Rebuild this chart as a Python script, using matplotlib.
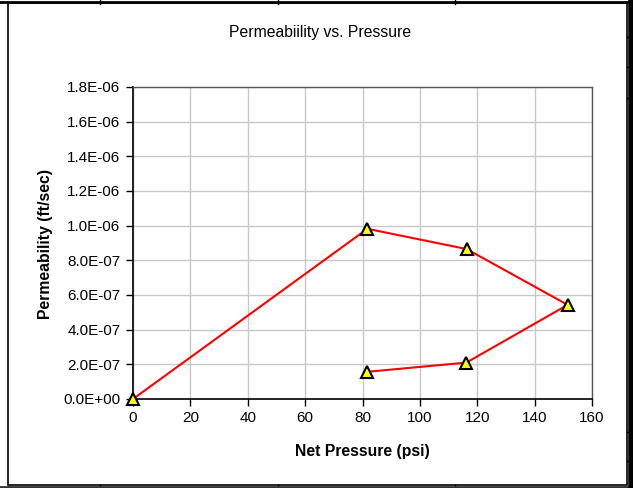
import matplotlib.pyplot as plt
from matplotlib.patches import Rectangle
from matplotlib.lines import Line2D

plt.rcParams['font.family'] = ['Liberation Sans', 'DejaVu Sans']

# data
pressure = [0, 81.7, 116.3, 151.5, 116.2, 81.7]
permeability = [0.0, 9.82e-07, 8.65e-07, 5.43e-07, 2.10e-07, 1.57e-07]

x_ticks = [0, 20, 40, 60, 80, 100, 120, 140, 160]
y_ticks = [0.0, 2e-07, 4e-07, 6e-07, 8e-07, 1e-06, 1.2e-06, 1.4e-06, 1.6e-06, 1.8e-06]
y_labels = ["0.0E+00", "2.0E-07", "4.0E-07", "6.0E-07", "8.0E-07",
            "1.0E-06", "1.2E-06", "1.4E-06", "1.6E-06", "1.8E-06"]

fig = plt.figure(figsize=(6.33, 4.88), dpi=100)
ax = fig.add_axes([133 / 633, 1 - 399 / 488, 459 / 633, 312 / 488])

# spreadsheet cell lines behind the chart
W, H = 633, 488
def px(x, y):
    return x / W, 1 - y / H

for xc in [100, 278, 455]:
    fig.add_artist(Line2D([xc / W, xc / W], [1, 1 - 4 / H], color='black', lw=1, transform=fig.transFigure))
    fig.add_artist(Line2D([xc / W, xc / W], [0, 3 / H], color='black', lw=1, transform=fig.transFigure))
for yr in [37, 67, 98, 432, 461]:
    fig.add_artist(Line2D([1 - 6 / W, 1], [1 - yr / H, 1 - yr / H], color='black', lw=1, transform=fig.transFigure))
fig.add_artist(Line2D([0, 1], [1 - 1.5 / H, 1 - 1.5 / H], color='black', lw=2, transform=fig.transFigure))
fig.add_artist(Line2D([0, 1], [1.5 / H, 1.5 / H], color='#333333', lw=2, transform=fig.transFigure))
fig.add_artist(Line2D([1 - 2 / W, 1 - 2 / W], [0, 1], color='black', lw=4, transform=fig.transFigure))

# chart frame
x0, y0 = px(8, 485)
x1, y1 = px(627, 3)
fig.add_artist(Rectangle((x0, y0), x1 - x0, y1 - y0, fill=False, edgecolor='black', lw=1.2,
                         transform=fig.transFigure))

ax.plot(pressure, permeability, color='red', lw=1.5, marker='^', markersize=9,
        markerfacecolor='yellow', markeredgecolor='black', markeredgewidth=1.5,
        clip_on=False, zorder=5)

ax.set_xlim(0, 160)
ax.set_ylim(0, 1.8e-06)
ax.set_xticks(x_ticks)
ax.set_yticks(y_ticks)
ax.set_yticklabels(y_labels)
ax.tick_params(direction='out', length=5, width=1, labelsize=11, colors='black', pad=4)
ax.grid(True, color='#c8c8c8', lw=1)
ax.set_axisbelow(True)

for side in ['top', 'right']:
    ax.spines[side].set_color('#555555')
    ax.spines[side].set_linewidth(1)
for side in ['left', 'bottom']:
    ax.spines[side].set_color('black')
    ax.spines[side].set_linewidth(1.2)

ax.set_xlabel('Net Pressure (psi)', fontsize=11.3, fontweight='bold', labelpad=13)
fig.text(46 / W, 1 - 244 / H, 'Permeability (ft/sec)', rotation=90, fontsize=11.3,
         fontweight='bold', ha='center', va='center')
fig.text(320 / W, 1 - 33 / H, 'Permeabiility vs. Pressure', fontsize=11.3,
         ha='center', va='center')

fig.savefig('out.png', dpi=100)
